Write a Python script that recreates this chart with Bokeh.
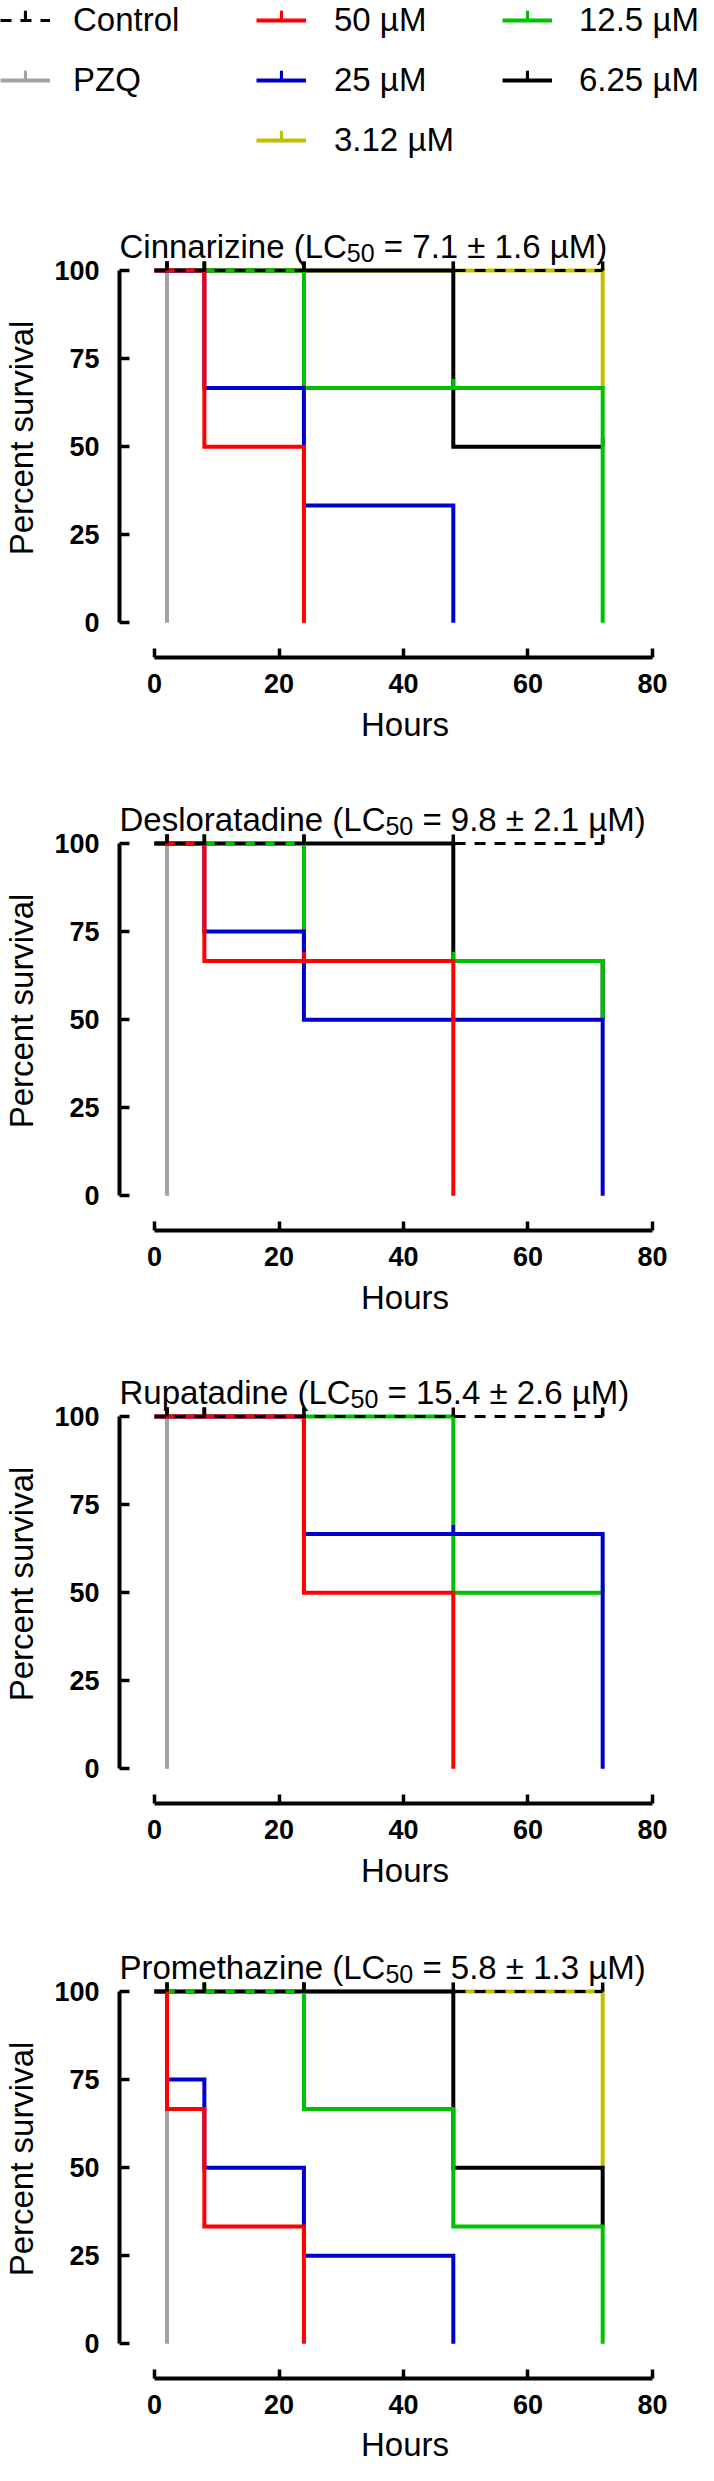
import numpy as np
from bokeh.plotting import figure
from bokeh.models import Range1d, FixedTicker, Legend, LegendItem, Label
from bokeh.layouts import column
from bokeh.embed import file_html
from bokeh.resources import INLINE

# ---------------- data ----------------
hours = [0, 2, 8, 24, 48, 72]          # observation times (h)
x_ticks = [0, 20, 40, 60, 80]
y_ticks = [0, 25, 50, 75, 100]

drugs = ["Cinnarizine", "Desloratadine", "Rupatadine", "Promethazine"]
lc50 = ["7.1 ± 1.6", "9.8 ± 2.1", "15.4 ± 2.6", "5.8 ± 1.3"]

control = [100, 100, 100, 100, 100, 100]
pzq = [100, 0]

cinnarizine_50 = [100, 100, 50, 0]
cinnarizine_25 = [100, 100, 66.67, 33.33, 0]
cinnarizine_12_5 = [100, 100, 100, 66.67, 66.67, 0]
cinnarizine_6_25 = [100, 100, 100, 100, 50, 50]
cinnarizine_3_12 = [100, 100, 100, 100, 100, 66.67]

desloratadine_50 = [100, 100, 66.67, 66.67, 0]
desloratadine_25 = [100, 100, 75, 50, 50, 0]
desloratadine_12_5 = [100, 100, 100, 66.67, 66.67, 50]
desloratadine_6_25 = [100, 100, 100, 100, 66.67, 50]

rupatadine_50 = [100, 100, 100, 50, 0]
rupatadine_25 = [100, 100, 100, 66.67, 66.67, 0]
rupatadine_12_5 = [100, 100, 100, 100, 50, 50]

promethazine_50 = [100, 66.67, 33.33, 0]
promethazine_25 = [100, 75, 50, 25, 0]
promethazine_12_5 = [100, 100, 100, 66.67, 33.33, 0]
promethazine_6_25 = [100, 100, 100, 100, 50, 33.33]
promethazine_3_12 = [100, 100, 100, 100, 100, 50]

# drawing order: bottom -> top
panels = [
    {"PZQ": pzq, "3.12 µM": cinnarizine_3_12, "6.25 µM": cinnarizine_6_25,
     "12.5 µM": cinnarizine_12_5, "25 µM": cinnarizine_25, "50 µM": cinnarizine_50,
     "Control": control},
    {"PZQ": pzq, "6.25 µM": desloratadine_6_25, "12.5 µM": desloratadine_12_5,
     "25 µM": desloratadine_25, "50 µM": desloratadine_50, "Control": control},
    {"PZQ": pzq, "12.5 µM": rupatadine_12_5, "25 µM": rupatadine_25,
     "50 µM": rupatadine_50, "Control": control},
    {"PZQ": pzq, "3.12 µM": promethazine_3_12, "6.25 µM": promethazine_6_25,
     "12.5 µM": promethazine_12_5, "25 µM": promethazine_25, "50 µM": promethazine_50,
     "Control": control},
]

colors = {"Control": "#000000", "PZQ": "#A3A3A6", "50 µM": "#FF0000",
          "25 µM": "#0000CC", "12.5 µM": "#00C000", "6.25 µM": "#000000",
          "3.12 µM": "#C0C000"}

legend_columns = [["Control", "PZQ"], ["50 µM", "25 µM", "3.12 µM"], ["12.5 µM", "6.25 µM"]]

# ---------------- styling / layout ----------------
FONT = "Liberation Sans"
W = 698
FRAME_W, FRAME_H = 578, 439
PX_H, PX_U = 6.3, 3.523            # pixels per hour / per percent
GAP_X = 35.5                       # y-axis line left of t = 0 (px)
TOP_PAD = 52                       # frame top above the 100 % line (px)
BORDER_L, BORDER_R = 112, 8
LEGEND_H = 218
fig_specs = [(548, 0, 109, 10), (573, 25, 109, 10), (573, 25, 109, 10), (553, 27, 87, 9)]
SOLID_W, DASH_W, LINE_DASH = 4, 3, "11 9"
ITEM_H, ITEM_GAP = 38, 22                       # legend rows
GLYPH_W = 50
TICK_W, TICK_H = 4, 12                          # legend tick box (80 % is filled)
legend_locs = [(0, 119, 23), (256, 59, 28), (502, 119, 27)]

ARIAL = {' ': 278, '(': 333, ')': 333, '.': 278, '=': 584, '±': 549, 'µ': 576,
         'C': 722, 'D': 722, 'L': 556, 'M': 833, 'P': 667, 'R': 722,
         'a': 556, 'c': 500, 'd': 556, 'e': 556, 'h': 556, 'i': 222, 'l': 222,
         'm': 833, 'n': 556, 'o': 556, 'p': 556, 'r': 333, 's': 500, 't': 278,
         'u': 556, 'z': 500}
for dgt in "0123456789":
    ARIAL[dgt] = 556


def text_w(s, size):
    return sum(ARIAL.get(c, 556) for c in s) * size / 1000.0


def censored(t, s):
    ct, cs = [], []
    for i in range(1, len(s)):
        if s[i] == s[i - 1] and s[i] > 0:
            ct.append(t[i])
            cs.append(s[i])
    return ct, cs


def line_style(name):
    dashed = name == "Control"
    return dict(line_color=colors[name], line_width=DASH_W if dashed else SOLID_W,
                line_dash=LINE_DASH if dashed else "solid", line_join="miter")


# ---------------- legend (its own strip; proxies carry no visible mark) ----------------
lf = figure(width=W, height=LEGEND_H, x_range=Range1d(0, 1), y_range=Range1d(0, 1),
            output_backend="svg", toolbar_location=None,
            x_axis_location=None, y_axis_location=None, min_border=0)
lf.frame_align = False
lf.outline_line_color = None
lf.grid.visible = False
proxies = {n: lf.line(x=[np.nan], y=[np.nan], **line_style(n)) for n in colors}
tick_proxies = {n: lf.vbar(x=[np.nan], top=[np.nan], width=1, fill_color=colors[n],
                           line_color=None) for n in colors}
pitch = ITEM_H + ITEM_GAP
for names, (lx, ly, stand) in zip(legend_columns, legend_locs):
    n_items = len(names)
    items = [LegendItem(label=n, renderers=[proxies[n]]) for n in names]
    lg = Legend(items=items, location=(lx, ly), orientation="vertical",
                glyph_width=GLYPH_W, glyph_height=ITEM_H, label_height=ITEM_H,
                spacing=ITEM_GAP, padding=0, margin=0, label_standoff=stand,
                border_line_color=None, background_fill_alpha=0,
                label_text_font=FONT, label_text_font_size="33px",
                label_text_color="black", label_text_baseline="middle")
    lf.add_layout(lg)
    # censor-tick part of each legend symbol (rises from the middle of the line)
    main_h = n_items * ITEM_H + (n_items - 1) * ITEM_GAP
    tick_h = n_items * TICK_H + (n_items - 1) * (pitch - TICK_H)
    top_main = ly + main_h                       # from frame bottom, upward
    top_tick = top_main - ITEM_H / 2 + 0.9 * TICK_H
    tick_items = [LegendItem(label="", renderers=[tick_proxies[n]]) for n in names]
    tl = Legend(items=tick_items,
                location=(lx + GLYPH_W / 2 - TICK_W / 2, top_tick - tick_h),
                orientation="vertical", glyph_width=TICK_W, glyph_height=TICK_H,
                label_height=TICK_H, spacing=pitch - TICK_H, padding=0, margin=0,
                label_standoff=0, label_width=0, border_line_color=None,
                background_fill_alpha=0, label_text_font_size="1px")
    lf.add_layout(tl)

figs = [lf]
for k, (drug, lc, series) in enumerate(zip(drugs, lc50, panels)):
    h, top, bottom, lab_stand = fig_specs[k]
    x0 = -GAP_X / PX_H
    y1 = 100 + TOP_PAD / PX_U
    p = figure(width=W, height=h,
               x_range=Range1d(x0, x0 + FRAME_W / PX_H),
               y_range=Range1d(y1 - FRAME_H / PX_U, y1),
               output_backend="svg", toolbar_location=None,
               min_border_left=BORDER_L, min_border_right=BORDER_R,
               min_border_top=top, min_border_bottom=bottom)
    p.frame_align = False
    p.outline_line_color = None
    p.grid.visible = False
    p.background_fill_color = "white"
    p.border_fill_color = "white"

    for name, surv in series.items():
        t = hours[:len(surv)]
        p.step(t, surv, mode="after", **line_style(name))
        ct, cs = censored(t, surv)
        if ct:
            p.ray(x=ct, y=cs, length=9, length_units="screen", angle=np.pi / 2,
                  line_color=colors[name], line_width=3.5)

    # axes
    for ax, ticks, bnds in ((p.xaxis, x_ticks, (0, 80)), (p.yaxis, y_ticks, (0, 100))):
        ax.bounds = bnds
        ax.ticker = FixedTicker(ticks=ticks)
        ax.minor_tick_line_color = None
        ax.major_tick_out = 0
        ax.axis_line_width = 4
        ax.axis_line_color = "black"
        ax.major_tick_line_width = 3.5
        ax.major_tick_line_color = "black"
        ax.major_label_text_font = FONT
        ax.major_label_text_font_style = "bold"
        ax.major_label_text_font_size = "27px"
        ax.major_label_text_color = "black"
        ax.axis_label_text_font = FONT
        ax.axis_label_text_font_style = "normal"
        ax.axis_label_text_font_size = "33px"
        ax.axis_label_text_color = "black"
    p.xaxis.major_tick_in = 9
    p.yaxis.major_tick_in = 10
    p.xaxis.major_label_standoff = 16
    p.yaxis.major_label_standoff = 20
    p.xaxis.axis_label = "Hours"
    p.yaxis.axis_label = "Percent survival"
    p.xaxis.axis_label_standoff = lab_stand
    p.yaxis.axis_label_standoff = 11

    # title with subscript (LC50), placed inside the top of the frame
    tx, ty = 0, FRAME_H - TOP_PAD + 24.5
    prefix = f"{drug} (LC"
    rest = f"= {lc} µM)"
    w_pre = text_w(prefix, 33)
    w_sub = text_w("50", 25)
    for txt, x, y, size in ((prefix, tx, ty, 33), ("50", tx + w_pre, ty - 7, 25),
                            (rest, tx + w_pre + w_sub + text_w(" ", 33), ty, 33)):
        p.add_layout(Label(x=x, y=y, x_units="screen", y_units="screen", text=txt,
                           text_font=FONT, text_font_size=f"{size}px",
                           text_color="black", text_baseline="alphabetic",
                           text_align="left"))
    figs.append(p)

layout = column(*figs)
open("out.html", "w").write(file_html(layout, INLINE))
